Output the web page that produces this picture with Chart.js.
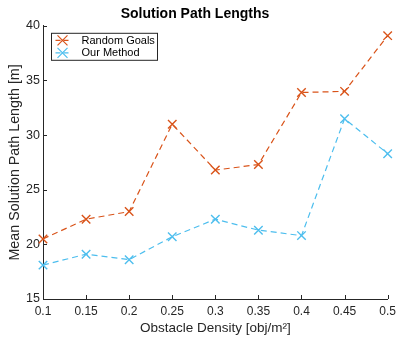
<!DOCTYPE html>
<html>
<head>
<meta charset="utf-8">
<script src="https://cdn.jsdelivr.net/npm/chart.js@4/dist/chart.umd.min.js"></script>
<style>
  html, body { margin: 0; padding: 0; background: #fff; }
  #wrap { width: 401px; height: 339px; position: relative; }
</style>
</head>
<body>
<div id="wrap"><canvas id="pathChart"></canvas></div>
<script>
var densityLabels = ['0.1', '0.15', '0.2', '0.25', '0.3', '0.35', '0.4', '0.45', '0.5'];
var randomGoals = [20.5, 22.3, 23.0, 31.0, 26.8, 27.3, 33.9, 34.0, 39.1];
var ourMethod = [18.1, 19.1, 18.6, 20.7, 22.3, 21.3, 20.8, 31.5, 28.3];
var yTicks = [15, 20, 25, 30, 35, 40];

var redCol = '#D95319';
var blueCol = '#4DBEEE';
var axisCol = '#262626';
var fontFam = '"Liberation Sans", Arial, Helvetica, sans-serif';

// matlab style inward ticks + boxed legend inside the axes
var matlabBits = {
    id: 'matlabBits',
    afterDraw: function(chart) {
        var c = chart.ctx;
        var area = chart.chartArea;
        var xs = chart.scales.x, ys = chart.scales.y;
        c.save();
        c.strokeStyle = axisCol;
        c.lineWidth = 1;
        c.beginPath();
        for (var i = 0; i < densityLabels.length; i++) {
            var px = Math.round(xs.getPixelForValue(i)) + 0.5;
            c.moveTo(px, area.bottom);
            c.lineTo(px, area.bottom - 4);
        }
        for (var j = 0; j < yTicks.length; j++) {
            var py = Math.round(ys.getPixelForValue(yTicks[j])) + 0.5;
            c.moveTo(area.left, py);
            c.lineTo(area.left + 4, py);
        }
        c.stroke();

        // legend
        var lx = area.left + 8.5, ly = area.top + 7.5;
        c.fillStyle = '#fff';
        c.fillRect(lx, ly, 106, 27);
        c.strokeStyle = axisCol;
        c.strokeRect(lx, ly, 106, 27);
        var sets = chart.data.datasets;
        c.font = '11px ' + fontFam;
        c.textBaseline = 'middle';
        for (var k = 0; k < sets.length; k++) {
            var ry = ly + 7 + k * 12.5;
            c.strokeStyle = sets[k].borderColor;
            c.lineWidth = 1.2;
            c.setLineDash([5, 3]);
            c.beginPath();
            c.moveTo(lx + 4, ry);
            c.lineTo(lx + 17, ry);
            c.stroke();
            c.setLineDash([]);
            var mx = lx + 11, r = 5;
            c.beginPath();
            c.moveTo(mx - r, ry - r); c.lineTo(mx + r, ry + r);
            c.moveTo(mx - r, ry + r); c.lineTo(mx + r, ry - r);
            c.stroke();
            c.fillStyle = '#000';
            c.fillText(sets[k].label, lx + 30, ry + 0.5);
        }
        c.restore();
    }
};

var ctx = document.getElementById('pathChart').getContext('2d');
var pathChart = new Chart(ctx, {
    type: 'line',
    data: {
        labels: densityLabels,
        datasets: [{
            label: 'Random Goals',
            data: randomGoals,
            borderColor: redCol,
            backgroundColor: redCol,
            borderWidth: 1.2,
            borderDash: [6, 4],
            pointStyle: 'crossRot',
            pointRadius: 6,
            pointBorderWidth: 1.4,
            tension: 0,
            fill: false
        }, {
            label: 'Our Method',
            data: ourMethod,
            borderColor: blueCol,
            backgroundColor: blueCol,
            borderWidth: 1.2,
            borderDash: [6, 4],
            pointStyle: 'crossRot',
            pointRadius: 6,
            pointBorderWidth: 1.4,
            tension: 0,
            fill: false
        }]
    },
    options: {
        responsive: true,
        maintainAspectRatio: false,
        animation: false,
        layout: { padding: { left: 0, right: 11, top: 0, bottom: 0 } },
        plugins: {
            legend: { display: false },
            tooltip: { enabled: false },
            title: {
                display: true,
                text: 'Solution Path Lengths',
                color: '#000',
                font: { family: fontFam, size: 14, weight: 'bold' },
                padding: { top: 6, bottom: 3 }
            }
        },
        scales: {
            x: {
                type: 'category',
                offset: false,
                grid: { display: false, tickLength: 0 },
                border: { display: true, color: axisCol, width: 1 },
                ticks: { color: axisCol, font: { family: fontFam, size: 12 }, padding: 5, maxRotation: 0, autoSkip: false },
                title: {
                    display: true,
                    text: 'Obstacle Density [obj/m\u00B2]',
                    color: axisCol,
                    font: { family: fontFam, size: 13.5 },
                    padding: { top: 0, bottom: 3 }
                },
                afterFit: function(s) { s.height = 40; }
            },
            y: {
                min: 15,
                max: 40,
                grid: { display: false, tickLength: 0 },
                border: { display: true, color: axisCol, width: 1 },
                ticks: { stepSize: 5, color: axisCol, font: { family: fontFam, size: 12.5 }, padding: 3 },
                title: {
                    display: true,
                    text: 'Mean Solution Path Length [m]',
                    color: axisCol,
                    font: { family: fontFam, size: 14.3 },
                    padding: { top: 6, bottom: 0 }
                },
                afterFit: function(s) { s.width = 43; }
            }
        }
    },
    plugins: [matlabBits]
});
</script>
</body>
</html>
